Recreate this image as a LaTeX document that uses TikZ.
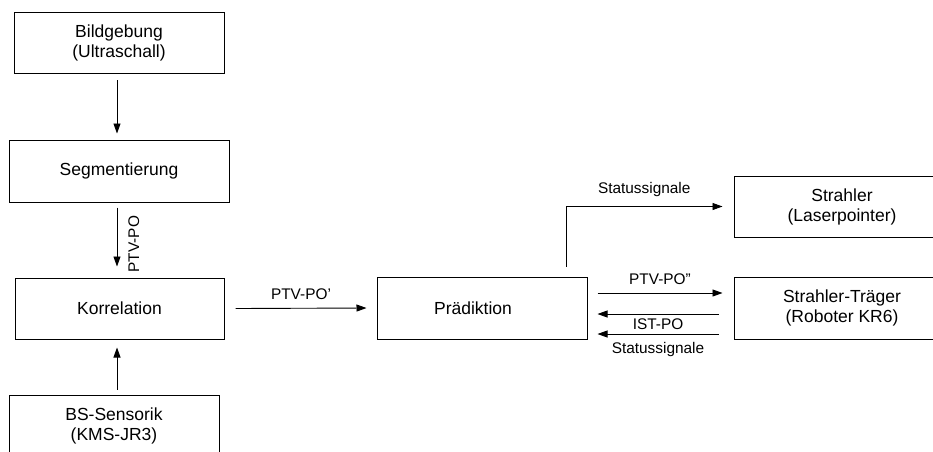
\documentclass[tikz,border=0pt]{standalone}
\usepackage{fontspec}
\setmainfont{Liberation Sans}
\usetikzlibrary{arrows.meta,calc}
\begin{document}
\begin{tikzpicture}[x=1pt,y=-1pt,
  box/.style={draw=black,line width=1pt,minimum width=210pt,minimum height=61pt,inner sep=0pt,align=center,
    font=\fontsize{17.5}{20}\selectfont},
  arr/.style={line width=0.9pt,-{Triangle[length=10pt,width=7pt]}},
  lbl/.style={font=\fontsize{15.4}{18}\selectfont,inner sep=0pt}]
\useasboundingbox (0,0) rectangle (933,451);
\clip (0,0) rectangle (933,451);
\fill[white] (0,0) rectangle (933,451);
\node[box] (bild) at (119,43) {Bildgebung\\(Ultraschall)};
\node[box,minimum width=220pt,minimum height=62pt] (seg) at (119,171) {Segmentierung};
\node[box,minimum width=209pt] (korr) at (119.5,308.5) {Korrelation};
\node[box,minimum height=62pt] (bs) at (114,426) {BS-Sensorik\\(KMS-JR3)};
\node[box,minimum height=62pt] (praed) at (482,308) {Pr\"adiktion\hspace*{18pt}};
\node[box,minimum width=216pt] (strahler) at (842,206.5) {Strahler\\(Laserpointer)};
\node[box,minimum width=216pt,minimum height=62pt] (traeger) at (842,308) {Strahler-Tr\"ager\\(Roboter KR6)};
% left column arrows
\draw[arr] ([xshift=-2pt,yshift=-6pt]bild.south) -- ([xshift=-2pt,yshift=6pt]seg.north);
\draw[arr] ([xshift=-2pt,yshift=-5pt]seg.south) -- ([xshift=-2.5pt,yshift=11pt]korr.north)
  node[lbl,rotate=90,pos=0.62,anchor=north,yshift=-11pt] {PTV-PO};
\draw[arr] ([xshift=3pt,yshift=5pt]bs.north) -- ([xshift=-2.5pt,yshift=-8pt]korr.south);
% korr -> praed
\draw[arr] ([xshift=11pt]korr.east) -- ([xshift=-10pt]praed.west)
  node[lbl,midway,above=8pt] {PTV-PO'};
% praed -> strahler
\coordinate (up) at ([xshift=84pt,yshift=10pt]praed.north);
\draw[arr] (up) |- ([xshift=-11pt]strahler.west)
  node[lbl,pos=0.75,above=9pt] {Statussignale};
% praed <-> traeger
\draw[arr] ([xshift=10pt,yshift=15pt]praed.east) -- ([xshift=-11pt,yshift=15pt]traeger.west)
  node[lbl,midway,above=8pt] {PTV-PO''};
\draw[arr] ([xshift=-15pt,yshift=-6pt]traeger.west) -- ([xshift=10pt,yshift=-6pt]praed.east)
  node[lbl,midway,below=4pt] {IST-PO};
\draw[arr] ([xshift=-15pt,yshift=-26pt]traeger.west) -- ([xshift=10pt,yshift=-26pt]praed.east)
  node[lbl,midway,below=8pt] {Statussignale};
\end{tikzpicture}
\end{document}
